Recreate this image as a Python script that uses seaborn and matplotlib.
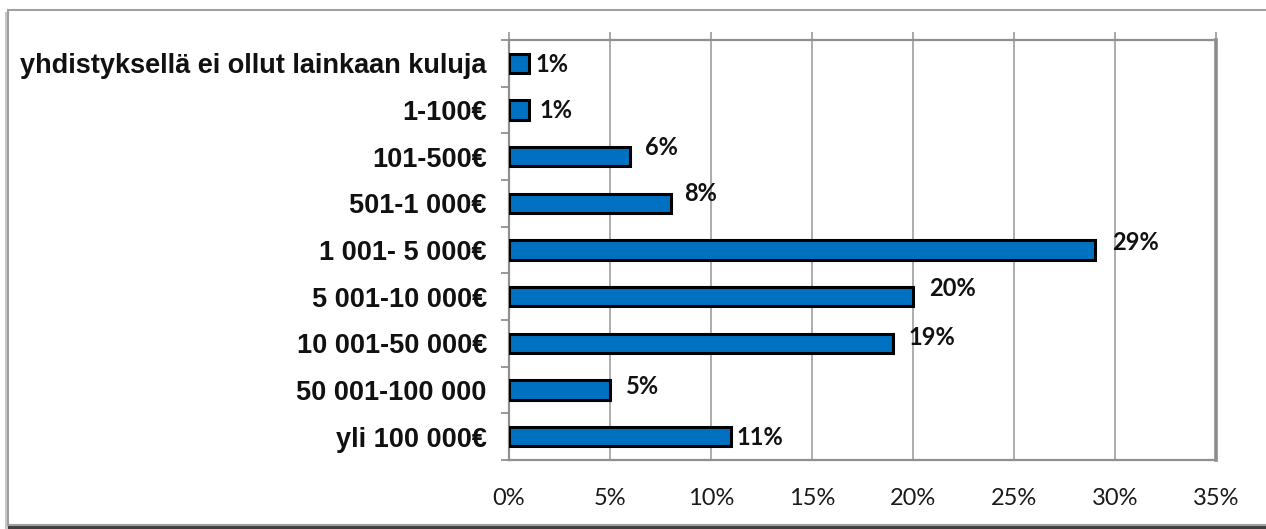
import numpy as np
import pandas as pd
import matplotlib
matplotlib.use("Agg")
import matplotlib.pyplot as plt
import seaborn as sns
from matplotlib.patches import Rectangle
from matplotlib.ticker import FixedLocator, PercentFormatter

# ---- data ----
categories = [
    "yhdistyksellä ei ollut lainkaan kuluja",
    "1-100€",
    "101-500€",
    "501-1 000€",
    "1 001- 5 000€",
    "5 001-10 000€",
    "10 001-50 000€",
    "50 001-100 000",
    "yli 100 000€",
]
values = [1, 1, 6, 8, 29, 20, 19, 5, 11]
value_labels = ["1%", "1%", "6%", "8%", "29%", "20%", "19%", "5%", "11%"]
x_ticks = [0, 5, 10, 15, 20, 25, 30, 35]

# label offsets in pixels (style only)
label_dx = [6, 10, 15, 14, 17, 16, 16, 16, 5]
label_dy = [-1, -1, 9, 10, 8, 8, 6, 4, -1]

df = pd.DataFrame({"cat": categories, "val": values})

sns.set_theme(style="white")
plt.rcParams["font.family"] = ["Liberation Sans", "DejaVu Sans"]

fig = plt.figure(figsize=(12.66, 5.29), dpi=100)
W, H = 1266, 529

# outer frame with shadow
fig.patches.append(Rectangle((5 / W, 0), 4 / W, 1 - 12 / H, transform=fig.transFigure,
                             facecolor="#c8c8c8", edgecolor="none", zorder=-3))
fig.patches.append(Rectangle((8 / W, 0), 1.0, 4 / H, transform=fig.transFigure,
                             facecolor="#404040", edgecolor="none", zorder=-3))
fig.patches.append(Rectangle((8 / W, 4 / H), 1.0, 1 - 14 / H, transform=fig.transFigure,
                             facecolor="white", edgecolor="#a0a0a0", linewidth=1.5, zorder=-2))

ax = fig.add_axes([509 / W, 1 - 460 / H, (1216 - 509) / W, (460 - 40) / H])
ax.set_zorder(2)
ax.set_facecolor("none")

sns.barplot(data=df, x="val", y="cat", orient="h", color="#0070C0", saturation=1,
            edgecolor="black", linewidth=2.2, width=0.42, ax=ax, zorder=3)

ax.set_xlim(0, 35)
ax.set_ylim(8.5, -0.5)
ax.set_xticks(x_ticks)
ax.xaxis.set_major_formatter(PercentFormatter(decimals=0))
ax.set_xlabel("")
ax.set_ylabel("")

# grid
ax.grid(axis="x", color="#a6a6a6", linewidth=1.3, zorder=0)
ax.grid(axis="y", visible=False)
ax.set_axisbelow(True)

# spines
for s in ["left", "bottom", "top"]:
    ax.spines[s].set_visible(True)
    ax.spines[s].set_color("#909090")
    ax.spines[s].set_linewidth(1.6)
ax.spines["right"].set_color("#8c8c8c")
ax.spines["right"].set_linewidth(2.6)

# ticks
ax.tick_params(axis="y", which="major", length=0, pad=16)
ax.yaxis.set_minor_locator(FixedLocator(np.arange(-0.5, 9.0, 1.0)))
ax.tick_params(axis="y", which="minor", left=True, length=6, width=1.3, color="#909090", direction="out")
ax.tick_params(axis="x", which="major", bottom=False, top=True, length=6, width=1.3,
               color="#a0a0a0", direction="out", labelbottom=True, labeltop=False, pad=14)

for lab in ax.get_yticklabels():
    lab.set_fontsize(19.5)
    lab.set_fontweight("bold")
    lab.set_color("#111111")
for lab in ax.get_xticklabels():
    lab.set_fontsize(17)
    lab.set_family(["Lato", "DejaVu Sans"])
    lab.set_color("#1a1a1a")

# value labels
for i, (v, t) in enumerate(zip(values, value_labels)):
    ax.annotate(t, xy=(v, i), xytext=(label_dx[i], label_dy[i]), textcoords="offset pixels",
                ha="left", va="center", fontsize=17, fontweight="bold",
                family=["Lato", "DejaVu Sans"], color="#111111", zorder=5)

fig.savefig("out.png", dpi=100)
